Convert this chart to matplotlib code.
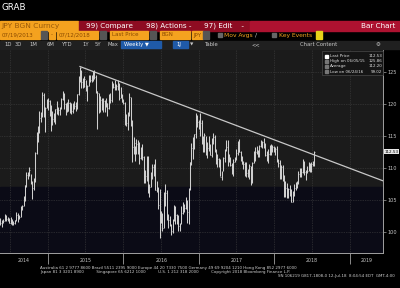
import matplotlib
matplotlib.use("Agg")
import matplotlib.pyplot as plt
from matplotlib.patches import Rectangle
import pandas as pd

# weekly USDJPY bars (week ending Friday), May 2014 .. 12 Jul 2018
highs = [
    102.15, 101.9, 102.0, 102.8, 102.7, 102.3, 102.2, 102.3, 102.0, 101.7, 101.9,
    103.15, 102.9, 102.6, 104.05, 104.2, 105.7, 107.4, 109.45, 109.45, 110.1, 109.05,
    108.0, 108.4, 112.45, 115.6, 116.5, 118.95, 118.75, 121.85, 121.7, 119.6, 120.8,
    # 2015
    121.0, 120.7, 119.9, 118.9, 118.65, 119.2, 120.5, 119.5, 119.55, 120.95, 122.0,
    121.8, 120.1, 120.35, 120.8, 120.3, 120.1, 120.1, 120.5, 120.3, 121.55, 124.45,
    125.86, 125.3, 124.0, 124.45, 123.8, 123.0, 124.5, 124.6, 124.5, 125.1, 125.3,
    124.5, 122.0, 121.75, 121.3, 121.0, 121.0, 120.7, 121.0, 120.2, 121.5, 121.75,
    123.6, 123.3, 123.75, 123.1, 123.7, 123.25, 122.65, 121.5,
    # 2016
    120.8, 120.3, 118.4, 118.8, 121.7, 121.05, 117.5, 114.9, 113.4, 114.55, 114.45,
    114.1, 113.3, 113.8, 111.9, 109.7, 111.9, 111.9, 107.5, 109.4, 110.6, 110.65,
    111.45, 107.9, 107.0, 106.8, 103.3, 103.0, 106.3, 107.5, 106.6, 102.85, 102.5,
    101.3, 102.0, 104.2, 104.0, 102.8, 102.65, 101.4, 104.0, 104.65, 104.35, 105.55,
    105.0, 106.95, 110.95, 113.9, 114.85, 115.35, 118.65, 118.25, 117.55,
    # 2017
    118.6, 117.55, 115.05, 115.4, 115.0, 114.0, 114.95, 113.75, 114.75, 115.5, 115.2,
    112.9, 112.2, 111.6, 111.4, 109.5, 111.8, 113.0, 114.35, 114.35, 112.15, 111.8,
    110.8, 111.4, 111.8, 113.0, 114.2, 114.5, 112.7, 111.9, 111.05, 110.95, 110.95,
    109.85, 110.65, 110.3, 111.0, 112.7, 113.25, 113.45, 112.85, 113.6, 114.45, 114.25,
    114.7, 113.9, 112.7, 112.9, 113.55, 113.75, 113.65, 113.4,
    # 2018
    113.3, 113.4, 111.45, 111.2, 110.5, 110.5, 108.85, 107.9, 107.7, 106.95, 107.3,
    106.65, 106.35, 107.5, 107.8, 107.9, 109.55, 109.95, 109.95, 111.4, 111.05, 109.7,
    110.25, 110.9, 110.75, 110.9, 111.15, 112.65,
]
lows = [
    101.1, 100.8, 101.4, 101.7, 101.7, 101.7, 101.4, 101.2, 101.1, 101.1, 101.3,
    101.8, 101.5, 102.0, 102.3, 103.5, 104.0, 104.9, 107.1, 108.3, 108.7, 107.5,
    105.2, 106.6, 107.8, 112.2, 114.0, 115.5, 117.2, 117.9, 117.9, 115.6, 119.4,
    # 2015
    119.0, 118.1, 115.85, 116.8, 117.2, 116.9, 118.4, 118.3, 118.3, 119.2, 120.6,
    119.3, 118.3, 118.7, 118.9, 118.6, 118.5, 118.55, 119.2, 118.9, 119.2, 121.4,
    123.5, 122.45, 122.5, 122.6, 122.1, 120.4, 122.8, 123.5, 123.5, 123.6, 123.9,
    121.8, 116.15, 118.6, 118.7, 119.0, 118.8, 118.7, 119.5, 118.1, 119.2, 120.1,
    120.3, 122.5, 122.2, 122.25, 122.2, 120.6, 120.9, 120.3,
    # 2016
    120.0, 116.7, 116.55, 115.95, 118.1, 116.5, 110.95, 112.2, 111.05, 112.2, 112.2,
    110.65, 111.45, 111.2, 107.65, 107.6, 107.9, 106.15, 105.55, 107.1, 108.3, 108.7,
    106.5, 106.25, 103.55, 99.02, 101.45, 100.2, 100.7, 104.1, 101.9, 100.7, 101.0,
    99.55, 99.85, 101.8, 101.2, 101.25, 100.1, 100.1, 101.2, 102.8, 103.2, 103.6,
    101.35, 101.2, 106.6, 110.5, 111.35, 112.9, 114.75, 116.4, 116.05,
    # 2017
    115.05, 113.75, 112.55, 112.55, 112.1, 111.6, 112.6, 112.05, 111.7, 113.75, 112.55,
    110.6, 110.1, 110.1, 108.7, 108.15, 109.5, 111.0, 112.6, 110.25, 110.9, 110.3,
    109.1, 108.8, 110.9, 111.25, 112.1, 112.5, 111.1, 110.6, 109.9, 108.75, 108.6,
    108.6, 108.25, 107.3, 107.65, 110.75, 111.05, 112.2, 111.75, 111.65, 113.25, 113.1,
    113.1, 111.9, 111.05, 110.85, 112.05, 112.05, 112.5, 112.45,
    # 2018
    112.05, 110.95, 110.2, 108.3, 108.3, 108.05, 105.55, 105.55, 105.25, 105.35, 105.6,
    104.65, 104.7, 105.65, 106.6, 106.9, 107.5, 108.65, 108.65, 109.2, 108.95, 108.1,
    109.25, 109.5, 109.35, 109.4, 110.3, 110.3,
]
closes = [
    101.45, 101.95, 101.8, 102.45, 102.0, 102.05, 101.45, 102.05, 101.3, 101.35, 101.85,
    102.6, 102.0, 102.35, 103.85, 104.1, 105.05, 107.35, 108.9, 109.25, 109.75, 107.6,
    106.9, 108.2, 112.3, 114.6, 116.3, 117.75, 118.65, 121.4, 118.75, 119.45, 120.3,
    # 2015
    120.5, 118.55, 117.55, 117.7, 117.5, 119.15, 118.75, 119.0, 119.6, 120.8, 121.4,
    120.0, 119.15, 118.95, 120.2, 118.9, 118.9, 120.2, 119.75, 119.3, 121.55, 124.1,
    125.6, 123.4, 122.7, 123.85, 122.8, 122.75, 124.05, 123.8, 123.9, 124.2, 124.3,
    122.0, 121.7, 119.0, 120.6, 119.95, 120.55, 119.9, 120.2, 119.45, 121.45, 120.65,
    123.25, 122.6, 122.8, 122.8, 123.15, 120.9, 121.15, 120.3,
    # 2016
    120.2, 117.2, 117.0, 118.75, 121.1, 116.85, 113.25, 112.55, 113.95, 113.8, 113.8,
    111.55, 113.05, 111.7, 108.05, 108.75, 111.8, 106.3, 107.1, 108.65, 110.15, 110.2,
    106.5, 106.95, 104.15, 102.2, 102.55, 100.6, 104.85, 106.1, 102.1, 101.85, 101.3,
    100.2, 101.8, 103.95, 102.6, 102.3, 100.95, 101.3, 102.95, 104.15, 103.8, 104.7,
    103.1, 106.65, 110.9, 113.2, 113.5, 115.25, 118.05, 117.15, 116.95,
    # 2017
    117.0, 114.45, 114.6, 115.1, 112.55, 113.2, 112.9, 112.1, 113.95, 114.8, 112.7,
    111.35, 111.4, 111.1, 108.65, 109.1, 111.5, 112.7, 113.3, 111.3, 111.3, 110.4,
    110.3, 110.9, 111.3, 112.4, 113.95, 112.5, 111.15, 110.7, 110.7, 109.2, 109.2,
    109.35, 110.25, 107.85, 110.85, 112.0, 112.5, 112.65, 111.85, 113.5, 113.7, 114.05,
    113.55, 112.1, 111.5, 112.15, 113.45, 112.6, 113.3, 112.7,
    # 2018
    113.05, 111.05, 110.8, 108.6, 110.15, 108.8, 106.3, 106.9, 105.75, 106.8, 106.0,
    104.75, 106.3, 106.95, 107.35, 107.65, 109.05, 109.1, 109.4, 110.8, 109.4, 109.5,
    109.55, 110.65, 109.95, 110.65, 110.45, 112.53,
]
last_date = "2018-07-13"

# hand-drawn resistance line from the June 2015 high
trend_dates = ["2015-06-05", "2019-06-10"]
trend_values = [125.86, 108.0]

legend_rows = [("Last Price", "112.53"), ("High on 06/05/15", "125.86"),
               ("Average", "112.20"), ("Low on 06/24/16", "99.02")]
y_ticks = [100, 105, 110, 115, 120, 125]
years = [2014, 2015, 2016, 2017, 2018, 2019]

W, H = 400, 288
fig = plt.figure(figsize=(4, 2.88), dpi=100, facecolor="black")


def rect(x, y, w, h, color, **kw):
    fig.patches.append(Rectangle((x / W, 1 - (y + h) / H), w / W, h / H,
                                 transform=fig.transFigure, color=color, **kw))


def txt(x, y, s, size=4, color="white", ha="left", **kw):
    fig.text(x / W, 1 - y / H, s, fontsize=size, color=color, ha=ha, va="center", **kw)


ax = fig.add_axes([0, (H - 252.5) / H, 383 / W, (252.5 - 49) / H])
ax.set_facecolor("#1b1b1b")
x0, x1 = pd.Timestamp("2014-05-14"), pd.Timestamp("2019-06-10")
ax.set_xlim(x0, x1)
ax.set_ylim(96.8, 128.6)
ax.axhspan(96.8, 107.0, color="#0b0b16", zorder=0)

dates = pd.date_range(end=last_date, periods=len(closes), freq="W-FRI")
ax.vlines(dates, lows, highs, color="#cfcfcf", lw=0.75, zorder=3)
ax.hlines(closes, dates, dates + pd.Timedelta(days=3), color="#cfcfcf", lw=0.5, zorder=3)
ax.plot(pd.to_datetime(trend_dates), trend_values, color="#c8c8c8", lw=0.9, zorder=4)

# grid
for v in y_ticks:
    ax.axhline(v, color="#444444", lw=0.5, ls=(0, (1, 1.5)), zorder=1)
for yr in years:
    for m in (1, 7):
        d = pd.Timestamp(year=yr, month=m, day=1)
        if x0 < d < x1:
            ax.axvline(d, color="#444444", lw=0.5, ls=(0, (1, 1.5)), zorder=1)

for s in ("left", "top"):
    ax.spines[s].set_visible(False)
for s in ("right", "bottom"):
    ax.spines[s].set_color("#a0a0a0")
    ax.spines[s].set_linewidth(0.7)

ax.yaxis.tick_right()
ax.set_yticks(y_ticks)
ax.set_yticklabels([str(v) for v in y_ticks])
ax.tick_params(axis="y", colors="#a0a0a0", labelcolor="#c8c8c8", labelsize=3.6,
               length=2, width=0.5, pad=1.5)
ax.set_xticks([pd.Timestamp(year=y, month=1, day=1) for y in years[1:]])
ax.set_xticklabels([])
ax.tick_params(axis="x", colors="#a0a0a0", length=8, width=0.6, direction="out")
for yr in years:
    a = max(pd.Timestamp(year=yr, month=1, day=1), x0)
    b = min(pd.Timestamp(year=yr + 1, month=1, day=1), x1)
    ax.text(a + (b - a) / 2, -0.04, str(yr), transform=ax.get_xaxis_transform(),
            fontsize=3.4, color="#c8c8c8", ha="center", va="center")

# last price tag
ax.annotate(f"{closes[-1]:.2f}", xy=(1, closes[-1]), xycoords=("axes fraction", "data"),
            xytext=(1.2, 0), textcoords="offset points", fontsize=3.0, color="black",
            va="center", ha="left", annotation_clip=False,
            bbox=dict(boxstyle="square,pad=0.1", fc="#e8e8e8", ec="none"))

# legend box
rect(322, 51, 61, 24, "#151515", ec="#4a4a4a", lw=0.5)
for i, (lab, val) in enumerate(legend_rows):
    yy = 56 + i * 5.2
    rect(324.5, yy - 1.5, 3, 3, "white" if i == 0 else "#777777")
    txt(329.5, yy, lab, size=2.9, color="#e0e0e0")
    txt(382, yy, val, size=2.9, color="#e0e0e0", ha="right")

# header
txt(2, 7, "GRAB", size=6.3, color="white")
rect(0, 21, 78, 10, "#f4a21f")
txt(1, 26, "JPY BGN Curncy", size=5.4, color="#9a5a0a")
rect(79, 21, 55, 10, "#8e0c22")
txt(86, 26, "99) Compare", size=5.2)
rect(135, 21, 64, 10, "#8e0c22")
txt(146, 26, "98) Actions -", size=5.2)
rect(200, 21, 49, 10, "#8e0c22")
txt(204, 26, "97) Edit    -", size=5.2)
rect(250, 21, 150, 10, "#ad1230")
txt(395, 26, "Bar Chart", size=5.2, ha="right")

row2 = [(0, 40, "07/19/2013"), (49, 6, "-"), (57, 41, "07/12/2018"),
        (110, 38, "Last Price"), (160, 30, "BGN"), (192, 11, "JPY")]
for x, w, s in row2:
    rect(x, 31.5, w, 7, "#f4a21f")
    txt(x + 1.5, 35, s, size=4.0, color="#8a4a00")
for x in (41, 100, 150, 203):
    rect(x, 31.5, 6, 7, "#555555")
for x in (218, 272):
    rect(x, 33, 4, 4, "#666666")
txt(224, 35, "Mov Avgs", size=4.3, color="#f4a21f")
txt(255, 35, "/", size=4.3, color="#cccccc")
txt(279, 35, "Key Events", size=4.3, color="#f4a21f")
rect(316, 31.5, 6, 7, "#e8d21a")

rect(0, 40.5, 400, 8, "#202020")
for x, s in [(4, "1D"), (15, "3D"), (29, "1M"), (47, "6M"), (62, "YTD"),
             (82, "1Y"), (95, "5Y"), (107, "Max")]:
    txt(x, 44.5, s, size=3.8, color="#c8c8c8")
rect(121, 41, 40, 7, "#1f5aa8")
txt(124, 44.5, "Weekly \u25bc", size=3.8, color="white")
rect(173, 41, 15, 7, "#1f5aa8")
txt(176, 44.5, "1J", size=3.8, color="white")
txt(190, 44.5, "\u25bc", size=3.2, color="#c8c8c8")
txt(205, 44.5, "Table", size=3.8, color="#c8c8c8")
txt(252, 44.5, "<<", size=3.8, color="#c8c8c8")
txt(300, 44.5, "Chart Content", size=3.8, color="#c8c8c8")
txt(376, 44.5, "\u2699", size=4.0, color="#c8c8c8")

# footer
txt(40, 267.5, "Australia 61 2 9777 8600 Brazil 5511 2395 9000 Europe 44 20 7330 7500 "
    "Germany 49 69 9204 1210 Hong Kong 852 2977 6000", size=2.9, color="#d0d0d0")
txt(40, 271.5, "Japan 81 3 3201 8900          Singapore 65 6212 1000          "
    "U.S. 1 212 318 2000          Copyright 2018 Bloomberg Finance L.P.",
    size=2.9, color="#d0d0d0")
txt(395, 275.5, "SN 106219 G817-1808-0 12-Jul-18  8:04:54 EDT  GMT-4:00",
    size=2.9, color="#d0d0d0", ha="right")

fig.savefig("out.png", dpi=100, facecolor="black")
